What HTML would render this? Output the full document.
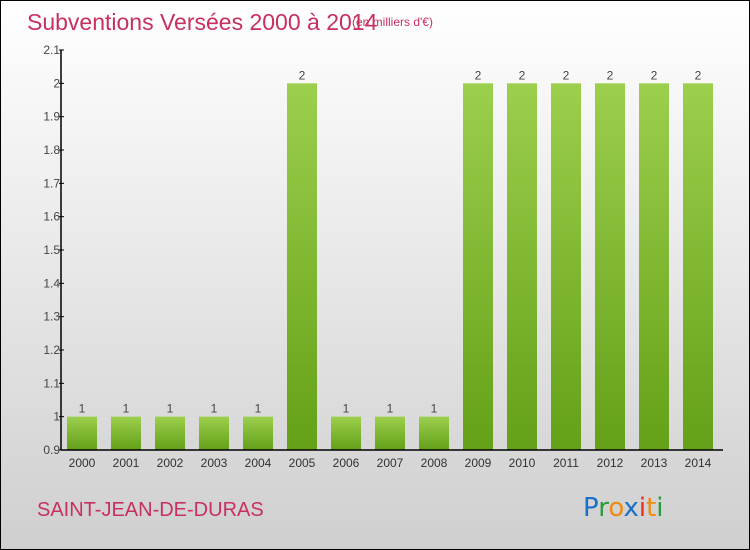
<!DOCTYPE html>
<html><head><meta charset="utf-8"><style>
body{margin:0;width:750px;height:550px;overflow:hidden;font-family:"Liberation Sans",sans-serif}
#root{position:relative;width:748px;height:548px;border:1px solid #000;background:linear-gradient(#ffffff,#cfcfcf)}
</style></head><body>
<div id="root">
<svg width="748" height="548" style="position:absolute;left:0;top:0">
<defs><linearGradient id="g" x1="0" y1="0" x2="0" y2="1"><stop offset="0" stop-color="#9ccf4c"/><stop offset="1" stop-color="#64a018"/></linearGradient></defs>
<text x="26" y="29" font-size="23" fill="#c8305f">Subventions Versées 2000 à 2014</text>
<text x="351" y="25" font-size="12" fill="#c8305f">(en milliers d'€)</text>
<text x="36" y="515" font-size="20" fill="#c8305f">SAINT-JEAN-DE-DURAS</text>
<g id="plot"></g>
<g font-size="26" font-family="DejaVu Sans, sans-serif">
<text x="582" y="515"><tspan fill="#1a6fc8">P</tspan><tspan fill="#2a9a3a">r</tspan><tspan fill="#f08a10">o</tspan><tspan fill="#1a6fc8">x</tspan><tspan fill="#e83020">i</tspan><tspan fill="#f08a10">t</tspan><tspan fill="#2a9a3a">i</tspan></text>
</g>
</svg>
</div>
<script>
const years=["2000","2001","2002","2003","2004","2005","2006","2007","2008","2009","2010","2011","2012","2013","2014"];
const values=[1,1,1,1,1,2,1,1,1,2,2,2,2,2,2];
const ticks=[0.9,1,1.1,1.2,1.3,1.4,1.5,1.6,1.7,1.8,1.9,2,2.1];
const tickLabels=["0.9","1","1.1","1.2","1.3","1.4","1.5","1.6","1.7","1.8","1.9","2","2.1"];
const NS="http://www.w3.org/2000/svg";
const g=document.getElementById('plot');
const x0=60,yTop=49,yBot=449,vMin=0.9,vMax=2.1;
const y=v=>yBot-(v-vMin)/(vMax-vMin)*(yBot-yTop);
const xb=i=>66+i*44;
function el(t,a){const e=document.createElementNS(NS,t);for(const k in a)e.setAttribute(k,a[k]);g.appendChild(e);return e;}
values.forEach((v,i)=>{
 const r=el('rect',{x:xb(i),y:y(v),width:30,height:yBot-y(v),fill:'url(#g)'});
 
 
 const t=el('text',{x:xb(i)+15,y:y(v)-4,'text-anchor':'middle','font-size':'12',fill:'#444'});
 t.textContent=String(v);
 
 
 const xl=el('text',{x:xb(i)+15,y:466,'text-anchor':'middle','font-size':'12',fill:'#333'});
 xl.textContent=years[i];
 
 
});
ticks.forEach((v,i)=>{
 const l=el('line',{x1:x0-2,x2:x0+3,y1:y(v),y2:y(v),stroke:'#000'});
 
 
 const t=el('text',{x:x0-1,y:y(v)+4,'text-anchor':'end','font-size':'12',fill:'#444'});
 t.textContent=tickLabels[i];
 
 
});
const ya=el('line',{x1:x0,x2:x0,y1:yTop,y2:yBot,stroke:'#000','stroke-width':1.5});


const xa=el('line',{x1:x0,x2:722,y1:yBot,y2:yBot,stroke:'#000','stroke-width':1.5});


</script>
</body></html>
